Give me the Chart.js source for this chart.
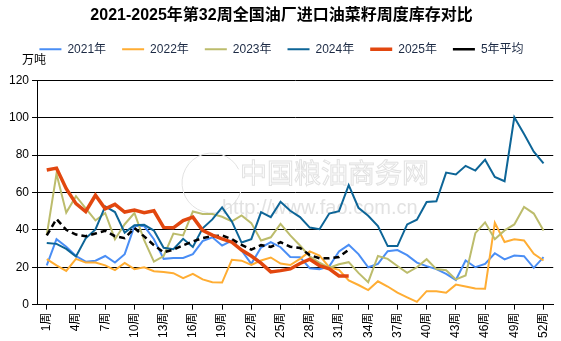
<!DOCTYPE html>
<html>
<head>
<meta charset="utf-8">
<script src="https://cdn.jsdelivr.net/npm/chart.js@4.4.1/dist/chart.umd.min.js"></script>
<style>
    html, body { margin: 0; padding: 0; background: #fff; }
    #wrap { width: 561px; height: 341px; }
</style>
</head>
<body>
<div id="wrap"><canvas id="stock-chart" width="561" height="341"></canvas></div>
<script>
// week numbers on the x axis
const weeks = [1, 2, 3, 4, 5, 6, 7, 8, 9, 10, 11, 12, 13, 14, 15, 16, 17, 18, 19, 20, 21, 22, 23, 24, 25, 26,
    27, 28, 29, 30, 31, 32, 33, 34, 35, 36, 37, 38, 39, 40, 41, 42, 43, 44, 45, 46, 47, 48, 49, 50, 51, 52];
const xTickWeeks = [1, 4, 7, 10, 13, 16, 19, 22, 25, 28, 31, 34, 37, 40, 43, 46, 49, 52];
const yTicks = [0, 20, 40, 60, 80, 100, 120];

// weekly stock, 万吨
const stock2021 = [21, 35, 31, 26, 23, 23.5, 26, 22.5, 27, 42, 42, 35, 24.5, 25, 25, 27, 34, 36, 31.6, 34.3,
    29, 21.8, 30.5, 33.4, 30.7, 25.5, 25.4, 19.5, 19, 20.5, 28.5, 32, 27, 20, 21.8, 28.6, 29.2, 26.5, 22.5, 20.6,
    19, 16.5, 13.2, 23.6, 20, 21.8, 27.5, 24.2, 26.3, 25.9, 19.7, 25.4];
const stock2022 = [24.3, 21, 18, 24.5, 22.5, 22.5, 21, 18.5, 22.3, 19, 20, 17.9, 17.5, 16.8, 14.2, 16.5, 13.5,
    12, 11.8, 24, 23.5, 21.2, 23.6, 25.2, 22, 21.2, 24.5, 28.5, 26.3, 20, 18.6, 12.9, 10.5, 7.8, 12.5, 9.7, 6.4,
    3.9, 1.5, 7.2, 7.2, 6.4, 10.7, 9.7, 8.6, 8.5, 43.8, 33.5, 34.9, 34.3, 27.2, 23.6];
const stock2023 = [37.2, 70, 49.2, 58, 51.5, 45, 49, 35, 43, 49, 34.5, 23, 26, 38, 37, 49.8, 48.5, 48.5, 47,
    44.5, 47.7, 43.6, 34.3, 36, 43.2, 37, 31.6, 25.8, 22.4, 19.7, 21.6, 22.7, 17, 12, 26, 24.5, 20.7, 17, 20,
    24.3, 19, 18.4, 13.5, 15.6, 38.2, 44, 35, 39.7, 42.9, 52.2, 48.7, 39.7];
const stock2024 = [33, 32.5, 29.8, 25.7, 35.5, 40.2, 52.5, 49.5, 38.5, 42.5, 42.7, 39.6, 30.4, 29.6, 35.2, 30.8,
    40.8, 45.6, 52, 44.5, 33.2, 35, 49.5, 46.8, 55, 50.2, 46.8, 41.2, 40.3, 48.7, 50, 63.9, 51.8, 47.5, 42, 31.3,
    31.3, 42.9, 45.4, 54.9, 55.3, 70.6, 69.6, 74.2, 71.7, 77.5, 68.3, 66, 100.2, 91.2, 81.8, 75.5];
const stock2025 = [72, 73, 62, 54, 49.8, 58.5, 51.2, 53.6, 49.5, 50.6, 49.2, 50.2, 41.3, 41.1, 45, 46.8, 39.7,
    37.2, 35.2, 33.4, 29.2, 26, 22.2, 17.5, 18.2, 19.1, 22, 24.3, 20.9, 19.1, 15.3, 15.3];
const avg5y = [37, 45.8, 40, 37.5, 36.6, 38, 39.5, 36.6, 35.5, 41, 36.5, 31.8, 28, 29.4, 31.7, 33.8, 35.6, 36.6,
    37, 35, 32, 29.4, 31.8, 30.9, 33.4, 31, 30.3, 26.5, 24.8, 24.8, 25.5, 29.3];

const FONT = "'Liberation Sans', 'Noto Sans CJK SC', sans-serif";

function toPoints(values) {
    return values.map(function(v, i) { return { x: weeks[i], y: v }; });
}

function lineSet(label, values, color, width, order, dash) {
    return {
        label: label,
        data: toPoints(values),
        borderColor: color,
        backgroundColor: color,
        borderWidth: width,
        borderDash: dash || [],
        pointRadius: 0,
        pointHoverRadius: 0,
        tension: 0,
        fill: false,
        order: order
    };
}

// leave room under the legend for the unit text
const legendGap = {
    id: 'legendGap',
    beforeInit(chart) {
        const origFit = chart.legend.fit;
        chart.legend.fit = function() {
            origFit.bind(chart.legend)();
            this.height += 15;
        };
    }
};

// '万吨' unit text above the y axis
const unitLabel = {
    id: 'unitLabel',
    afterDraw(chart) {
        const ctx = chart.ctx;
        ctx.save();
        ctx.font = '12px ' + FONT;
        ctx.fillStyle = '#000';
        ctx.textBaseline = 'middle';
        ctx.fillText('万吨', 22, 61);
        ctx.restore();
    }
};

// faint site watermark behind the lines
const watermark = {
    id: 'watermark',
    beforeDatasetsDraw(chart) {
        const ctx = chart.ctx;
        ctx.save();
        ctx.strokeStyle = '#e2e2e2';
        ctx.lineWidth = 1;
        ctx.beginPath();
        ctx.arc(212, 183, 30, 0.3, Math.PI * 1.85);
        ctx.stroke();
        ctx.font = '27px ' + FONT;
        ctx.textBaseline = 'middle';
        ctx.strokeText('中国粮油商务网', 240, 176);
        ctx.fillStyle = '#e2e2e2';
        ctx.font = '20px ' + FONT;
        ctx.fillText('http://www.fao.com.cn', 222, 208);
        ctx.restore();
    }
};

const ctx = document.getElementById('stock-chart').getContext('2d');
const stockChart = new Chart(ctx, {
    type: 'line',
    data: {
        datasets: [
            lineSet('2021年', stock2021, '#4a8ef5', 2, 6),
            lineSet('2022年', stock2022, '#ffad33', 2, 5),
            lineSet('2023年', stock2023, '#bcbc6c', 2, 4),
            lineSet('2024年', stock2024, '#0d6597', 2, 3),
            lineSet('2025年', stock2025, '#e2470f', 3.5, 1),
            lineSet('5年平均', avg5y, '#000000', 2.5, 2, [6, 4])
        ]
    },
    options: {
        responsive: false,
        animation: false,
        events: [],
        layout: { padding: { left: 6, right: 4, top: 0, bottom: 0 } },
        plugins: {
            title: {
                display: true,
                text: '2021-2025年第32周全国油厂进口油菜籽周度库存对比',
                color: '#000',
                font: { family: FONT, size: 16, weight: 'bold' },
                padding: { top: 6, bottom: 2 }
            },
            legend: {
                position: 'top',
                labels: {
                    usePointStyle: true,
                    pointStyle: 'line',
                    pointStyleWidth: 22,
                    boxHeight: 12,
                    padding: 16,
                    color: '#1c2a44',
                    font: { family: FONT, size: 12 },
                    // keep the legend in year order, not drawing order
                    sort: function(a, b) { return a.datasetIndex - b.datasetIndex; }
                }
            },
            tooltip: { enabled: false }
        },
        scales: {
            x: {
                type: 'linear',
                min: 0,
                max: 53,
                afterBuildTicks: function(axis) {
                    axis.ticks = xTickWeeks.map(function(v) { return { value: v }; });
                },
                ticks: {
                    autoSkip: false,
                    minRotation: 90,
                    maxRotation: 90,
                    color: '#000',
                    font: { family: FONT, size: 12 },
                    callback: function(v) { return v + '周'; }
                },
                grid: { drawOnChartArea: false, color: '#000', tickLength: 5 },
                border: { color: '#000' }
            },
            y: {
                min: 0,
                max: 120,
                afterBuildTicks: function(axis) {
                    axis.ticks = yTicks.map(function(v) { return { value: v }; });
                },
                ticks: {
                    color: '#000',
                    padding: 3,
                    font: { family: FONT, size: 12 }
                },
                grid: { color: '#000', tickLength: 5 },
                border: { color: '#000' }
            }
        }
    },
    plugins: [legendGap, watermark, unitLabel]
});
</script>
</body>
</html>
